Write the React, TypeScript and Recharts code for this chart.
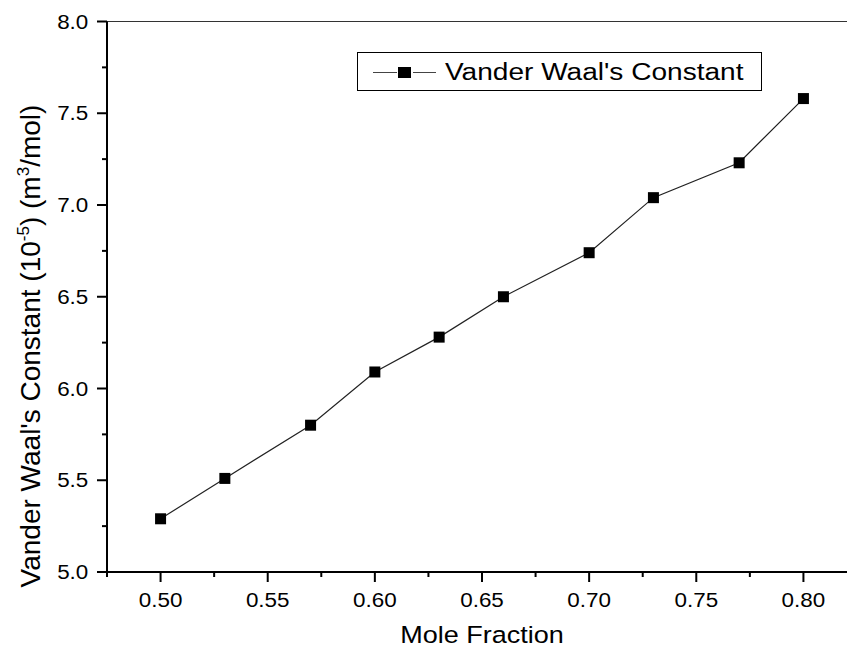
import { Line, LineChart, ReferenceLine, XAxis, YAxis } from 'recharts'

// mole fraction vs. Van der Waals constant b (x 10^-5 m^3/mol)
const molFraction = [0.5, 0.53, 0.57, 0.6, 0.63, 0.66, 0.7, 0.73, 0.77, 0.8]
const vdwConstant = [5.29, 5.51, 5.8, 6.09, 6.28, 6.5, 6.74, 7.04, 7.23, 7.58]

const xMajorTicks = [0.5, 0.55, 0.6, 0.65, 0.7, 0.75, 0.8]
const xMinorTicks = [0.475, 0.525, 0.575, 0.625, 0.675, 0.725, 0.775, 0.825]
const yMajorTicks = [5, 5.5, 6, 6.5, 7, 7.5, 8]
const yMinorTicks = [5.25, 5.75, 6.25, 6.75, 7.25, 7.75]

const seriesName = "Vander Waal's Constant"

const data = molFraction.map((x, i) => ({ x, b: vdwConstant[i] }))

const FONT = '"Liberation Sans", Arial, sans-serif'
const STRETCH = 1.15

// outward tick marks: long on labelled values, short in between
function XTick(props: any) {
  const x = Number(props.x)
  const y = Number(props.y)
  const major = xMajorTicks.includes(props.payload.value)
  const len = major ? 10 : 5
  return (
    <g>
      <path d={`M${x},${y}V${y + len}`} stroke="#000" strokeWidth={2} fill="none" />
      {major && (
        <text
          transform={`translate(${x},${y + 34.5}) scale(${STRETCH},1)`}
          textAnchor="middle"
          fontFamily={FONT}
          fontSize={19.5}
          fill="#000"
        >
          {props.payload.value.toFixed(2)}
        </text>
      )}
    </g>
  )
}

function YTick(props: any) {
  const x = Number(props.x)
  const y = Number(props.y)
  const major = yMajorTicks.includes(props.payload.value)
  const len = major ? 10 : 5
  return (
    <g>
      <path d={`M${x},${y}H${x - len}`} stroke="#000" strokeWidth={2} fill="none" />
      {major && (
        <text
          transform={`translate(${x - 18.7},${y + 7}) scale(${STRETCH},1)`}
          textAnchor="end"
          fontFamily={FONT}
          fontSize={19.5}
          fill="#000"
        >
          {props.payload.value.toFixed(1)}
        </text>
      )}
    </g>
  )
}

function SquareDot({ cx, cy, index }: any) {
  return <rect key={`pt-${index}`} x={cx - 5.5} y={cy - 5.5} width={11} height={11} fill="#000" />
}

export default function App() {
  return (
    <div style={{ position: 'fixed', top: 0, left: 0, width: 847, height: 649, overflow: 'hidden', background: '#fff' }}>
      <LineChart width={870} height={649} data={data} margin={{ top: 21.5, right: 13, bottom: 0, left: 0 }}>
        <XAxis
          dataKey="x"
          type="number"
          domain={[0.475, 0.825]}
          ticks={[...xMajorTicks, ...xMinorTicks]}
          interval={0}
          height={77}
          tickSize={0}
          tickMargin={0}
          tickLine={false}
          axisLine={{ stroke: '#000', strokeWidth: 2 }}
          tick={<XTick />}
          allowDataOverflow
        />
        <YAxis
          type="number"
          domain={[5, 8]}
          ticks={[...yMajorTicks, ...yMinorTicks]}
          interval={0}
          width={107}
          tickSize={0}
          tickMargin={0}
          tickLine={false}
          axisLine={{ stroke: '#000', strokeWidth: 2 }}
          tick={<YTick />}
          allowDataOverflow
        />
        <ReferenceLine y={8} stroke="#333" strokeWidth={1} />
        <Line
          dataKey="b"
          stroke="#222"
          strokeWidth={1.2}
          dot={SquareDot}
          activeDot={false}
          isAnimationActive={false}
        />
      </LineChart>

      <svg width={847} height={649} style={{ position: 'absolute', top: 0, left: 0, pointerEvents: 'none' }}>
        {/* legend box */}
        <rect x={357.5} y={52.5} width={404} height={38} fill="#fff" stroke="#000" strokeWidth={1} />
        <line x1={373} x2={397} y1={72.5} y2={72.5} stroke="#444" strokeWidth={1} />
        <line x1={413} x2={436} y1={72.5} y2={72.5} stroke="#444" strokeWidth={1} />
        <rect x={398} y={67} width={13} height={11} fill="#000" />
        <text transform={`translate(445,80) scale(${STRETCH},1)`} fontFamily={FONT} fontSize={24.4} fill="#000">
          {seriesName}
        </text>

        {/* axis titles */}
        <text
          transform={`translate(482,643) scale(${STRETCH},1)`}
          textAnchor="middle"
          fontFamily={FONT}
          fontSize={23.5}
          fill="#000"
        >
          Mole Fraction
        </text>
        <text
          transform="translate(40,346) rotate(-90)"
          textAnchor="middle"
          fontFamily={FONT}
          fontSize={28}
          fill="#000"
        >
          Vander Waal's Constant (10
          <tspan dy={-11} fontSize={17}>-5</tspan>
          <tspan dy={11}>) (m</tspan>
          <tspan dy={-11} fontSize={17}>3</tspan>
          <tspan dy={11}>/mol)</tspan>
        </text>
      </svg>
    </div>
  )
}
